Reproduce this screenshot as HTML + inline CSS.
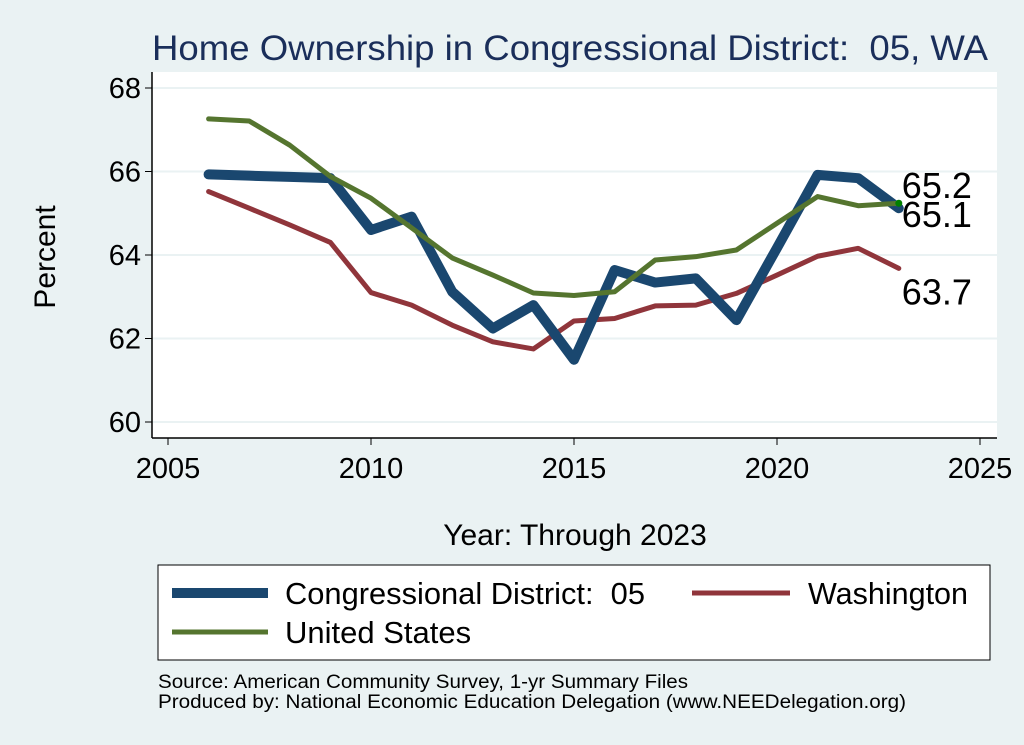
<!DOCTYPE html>
<html><head><meta charset="utf-8"><style>
body{margin:0;background:#eaf2f3;}
svg{display:block;font-family:"Liberation Sans",Arial,sans-serif;}
</style></head><body>
<svg id="chart" width="1024" height="745" viewBox="0 0 1024 745">
<rect x="0" y="0" width="1024" height="745" fill="#eaf2f3"/>
<text x="152" y="60" font-size="35" fill="#1a2e5a" textLength="836" lengthAdjust="spacingAndGlyphs">Home Ownership in Congressional District:&#160; 05, WA</text>
<rect x="152" y="72" width="845" height="366" fill="#ffffff"/>
<g id="grid"></g>
<g id="axes"></g>
<g id="series"></g>
<text transform="translate(55,257) rotate(-90)" text-anchor="middle" font-size="30" fill="#000">Percent</text>
<text x="575" y="545" text-anchor="middle" font-size="30" fill="#000">Year: Through 2023</text>
<g>
<rect x="158" y="565" width="832" height="95" fill="#fff" stroke="#000" stroke-width="1"/>
<line x1="172" y1="593" x2="268" y2="593" stroke="#1a476f" stroke-width="10"/>
<text x="285" y="604" font-size="31" textLength="360" lengthAdjust="spacingAndGlyphs">Congressional District:&#160; 05</text>
<line x1="692" y1="593" x2="790" y2="593" stroke="#90353b" stroke-width="5"/>
<text x="808" y="604" font-size="31" textLength="160" lengthAdjust="spacingAndGlyphs">Washington</text>
<line x1="172" y1="632" x2="268" y2="632" stroke="#55752f" stroke-width="5"/>
<text x="285" y="643" font-size="31">United States</text>
</g>
<text x="158" y="688" font-size="19" textLength="530" lengthAdjust="spacingAndGlyphs">Source: American Community Survey, 1-yr Summary Files</text>
<text x="158" y="708" font-size="19" textLength="748" lengthAdjust="spacingAndGlyphs">Produced by: National Economic Education Delegation (www.NEEDelegation.org)</text>
</svg>
<script>
const years=[2006,2007,2008,2009,2010,2011,2012,2013,2014,2015,2016,2017,2018,2019,2020,2021,2022,2023];
const district=[65.93,65.9,65.87,65.84,64.6,64.92,63.12,62.24,62.8,61.49,63.64,63.34,63.44,62.44,64.17,65.92,65.84,65.12];
const washington=[65.52,65.12,64.72,64.3,63.1,62.8,62.32,61.92,61.75,62.42,62.48,62.78,62.8,63.08,63.52,63.97,64.16,63.68];
const unitedStates=[67.26,67.21,66.63,65.88,65.36,64.65,63.93,63.52,63.09,63.03,63.12,63.88,63.96,64.12,64.76,65.4,65.18,65.24];
const xTicks=[2005,2010,2015,2020,2025];
const yTicks=[60,62,64,66,68];
const NS="http://www.w3.org/2000/svg";
function X(v){return 168+(v-2005)*(980-168)/20;}
function Y(v){return 88+(68-v)*41.75;}
function mk(tag,attrs,parent){const e=document.createElementNS(NS,tag);for(const k in attrs)e.setAttribute(k,attrs[k]);parent.appendChild(e);return e;}
const grid=document.getElementById('grid'),axes=document.getElementById('axes'),ser=document.getElementById('series');
yTicks.forEach(t=>{
 const g=mk('line',{x1:152,x2:997,y1:Y(t),y2:Y(t),stroke:'#eaf2f3','stroke-width':2},grid);
 
 
 const tk=mk('line',{x1:145,x2:152,y1:Y(t),y2:Y(t),stroke:'#000','stroke-width':1},axes);
 
 
 const tx=mk('text',{x:141,y:Y(t)+10,'text-anchor':'end','font-size':29},axes);
 tx.textContent=t;
 
 
});
xTicks.forEach(t=>{
 const tk=mk('line',{x1:X(t),x2:X(t),y1:438,y2:445,stroke:'#000','stroke-width':1},axes);
 
 
 const tx=mk('text',{x:X(t),y:478,'text-anchor':'middle','font-size':29},axes);
 tx.textContent=t;
 
 
});
const ya=mk('line',{x1:152,x2:152,y1:72,y2:438,stroke:'#000','stroke-width':1.5},axes);


const xa=mk('line',{x1:152,x2:997,y1:438,y2:438,stroke:'#000','stroke-width':1.5},axes);


function line(vals,color,w,name){
 const p=mk('polyline',{points:vals.map((v,i)=>X(years[i])+','+Y(v)).join(' '),fill:'none',stroke:color,'stroke-width':w,'stroke-linejoin':'round','stroke-linecap':'round'},ser);
 
 
}
line(washington,'#90353b',5,'washington-line');
line(district,'#1a476f',10,'district-line');
line(unitedStates,'#55752f',5,'us-line');
const last=years.length-1;
const dot=mk('circle',{cx:X(years[last]),cy:Y(unitedStates[last]),r:3.5,fill:'#008000'},ser);


function lab(v,dy,name){
 const t=mk('text',{x:X(years[last])+3,y:Y(v)+dy,'font-size':36},ser);
 t.textContent=v.toFixed(1);
 
 
}
lab(unitedStates[last],-5,'us-end-label');
lab(district[last],19,'district-end-label');
lab(washington[last],36,'washington-end-label');
</script>
</body></html>
